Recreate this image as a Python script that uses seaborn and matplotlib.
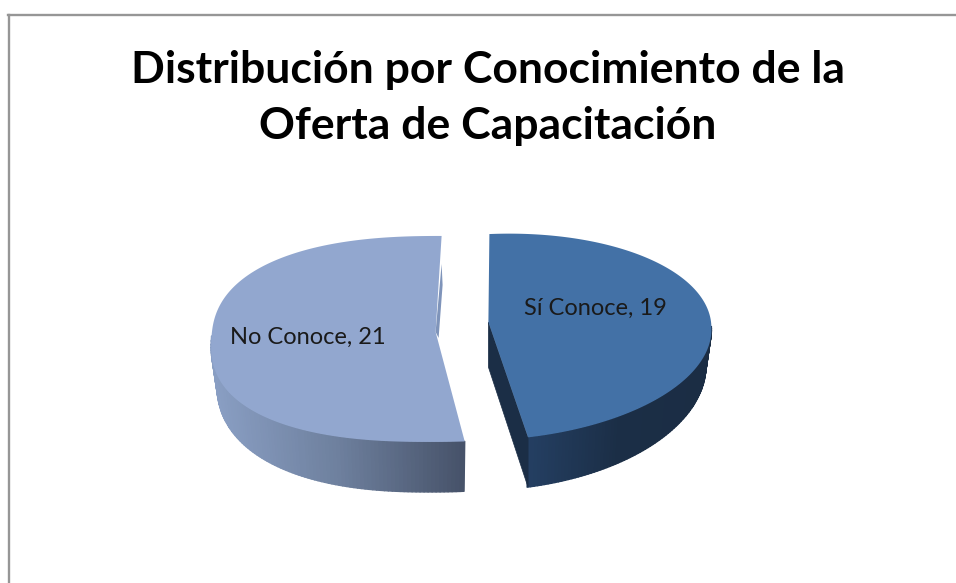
import numpy as np
import matplotlib
matplotlib.use("Agg")
import matplotlib.pyplot as plt
from matplotlib.collections import PolyCollection
from matplotlib.colors import LinearSegmentedColormap
from matplotlib.path import Path
import seaborn as sns

# data
categories = ["Sí Conoce", "No Conoce"]
values = [19, 21]
title_text = "Distribución por Conocimiento de la\nOferta de Capacitación"

top_colors = ["#4371A6", "#92A7CF"]
wall_colors = [["#243F62", "#1B2E46", "#1B2D44"], ["#8A9FC4", "#6E809E", "#47536A"]]

W, H = 956, 583
CX, CY = 463.5, 338   # pie centre, pixels
A, B = 222, 103       # ellipse half axes, pixels
DEPTH = 50 / B

sns.set_theme(style="white")
plt.rcParams["font.family"] = ["Lato", "DejaVu Sans"]

fig = plt.figure(figsize=(W / 100, H / 100), dpi=100, facecolor="white")
x0, y0 = 8.5, 15
ax = fig.add_axes([x0 / W, 0, 1 - x0 / W, 1 - y0 / H])


def px(x, y):
    return (x - CX) / A, (CY - y) / B


def rim(i, th):
    # outline of the top face relative to the wedge centre, the original has
    # a perspective so it is not a plain ellipse
    c, s = np.cos(th), np.sin(th)
    if i == 0:
        return c - 4 * np.minimum(s, 0) / A, s + 0.09 * c
    u = 1.01 * c
    y = np.sign(s) * (1 - np.abs(c) ** 2.4) ** (1 / 2.4)
    return u + (-2 + 6 * y) / A, y


wedges, _ = ax.pie(values, startangle=90, counterclock=False, colors=top_colors,
                   explode=[0.117, 0.117], frame=False,
                   wedgeprops={"linewidth": 0})
ax.set_aspect("auto")
ax.set_xlim(px(x0, 0)[0], px(W, 0)[0])
ax.set_ylim(px(0, H)[1], px(0, y0)[1])
ax.set_axis_on()
ax.set_frame_on(True)
ax.set_xticks([])
ax.set_yticks([])
ax.set_facecolor("white")
for side, spine in ax.spines.items():
    spine.set_visible(side in ("left", "top"))
    spine.set_color("#969696")
    spine.set_linewidth(1.7)

# apex of each wedge is not at the centre in the original, in pixels
apex_shift = [(-1, -15), (-2, -7)]
apexes = []

for i, w in enumerate(wedges):
    w.set_zorder(3)
    cx, cy = w.center
    apex = np.array([cx + apex_shift[i][0] / A, cy - apex_shift[i][1] / B])
    apexes.append(apex)

    th = np.radians(np.linspace(w.theta1, w.theta2, 181))
    dx, dy = rim(i, th)
    outline = np.vstack([np.column_stack([cx + dx, cy + dy]), apex])
    w._path = Path(np.vstack([outline, outline[0]]), closed=True)

    # side wall, one strip per step on the front half
    front = np.sin(th) < 0.02
    dx, dy, t = dx[front], dy[front], th[front]
    depth = DEPTH * (0.72 + 0.28 * np.abs(np.sin(t)))
    xs, ys = cx + dx, cy + dy
    xb, yb = cx + 0.975 * dx, cy + dy - depth
    strips = [[(xs[k], ys[k]), (xs[k + 1], ys[k + 1]), (xb[k + 1], yb[k + 1]), (xb[k], yb[k])]
              for k in range(len(t) - 1)]
    shade = (xs[:-1] - xs.min()) / (xs.max() - xs.min())
    cmap = LinearSegmentedColormap.from_list(f"wall{i}", wall_colors[i])
    coll = PolyCollection(strips, array=shade, cmap=cmap, zorder=2, linewidths=1.0)
    coll.set_edgecolor("face")
    ax.add_collection(coll)

# cut face of the right slice, seen from the front
w = wedges[0]
apex = apexes[0]
ex, ey = rim(0, np.radians(w.theta1))
end = np.array(w.center) + [ex, ey]
ax.fill([apex[0], end[0], end[0], apex[0]],
        [apex[1], end[1], end[1] - DEPTH, apex[1] - DEPTH * 0.9],
        color="#1B2E46", lw=0.5, zorder=2)

# thin sliver of the back cut on the left slice
w = wedges[1]
apex = apexes[1]
sx, sy = rim(1, np.radians(90))
start = np.array(w.center) + [sx, sy]
ax.fill([apex[0], start[0], start[0] + 1 / A, apex[0] + 3 / A],
        [apex[1], start[1] - 28 / B, start[1] - 49 / B, apex[1] - 6 / B],
        color="#7F94BA", lw=0, zorder=4)

# labels
label_pos = [(595, 308), (308, 337)]
for name, val, (lx, ly) in zip(categories, values, label_pos):
    tx, ty = px(lx, ly)
    ax.text(tx, ty, f"{name}, {val}", ha="center", va="center",
            fontsize=17, color="#1a1a1a", zorder=5)

tx, ty = px(488, 98)
ax.text(tx, ty, title_text, ha="center", va="center", fontsize=32,
        fontweight="bold", color="black", linespacing=1.5, zorder=5)

fig.savefig("out.png", dpi=100, facecolor="white")
